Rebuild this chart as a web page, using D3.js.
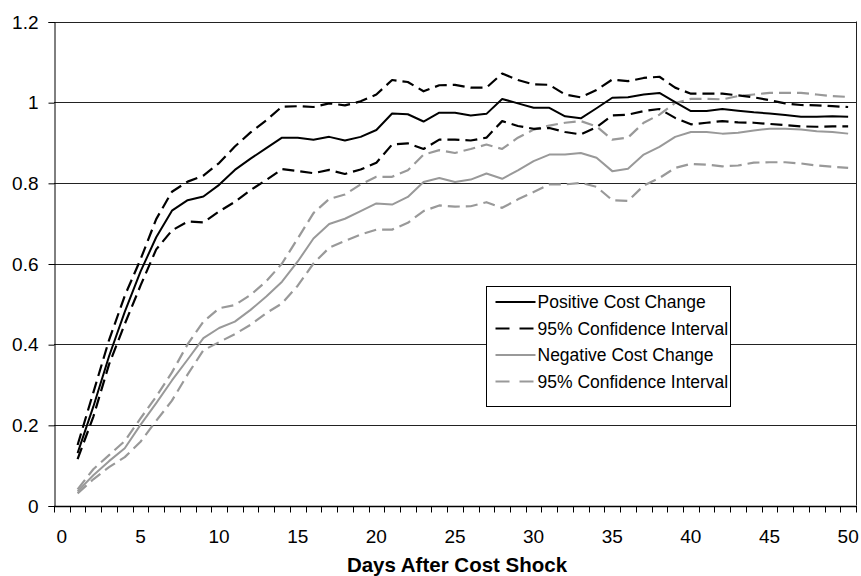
<!DOCTYPE html>
<html>
<head>
<meta charset="utf-8">
<script src="https://cdn.jsdelivr.net/npm/d3@7"></script>
<style>
  body { margin: 0; background: #fff; }
  text { font-family: "Liberation Sans", Arial, sans-serif; }
</style>
</head>
<body>
<div id="chart"></div>
<script>
// categories on the x axis (0 is an empty slot, data starts at day 1)
var categories = [0, 1, 2, 3, 4, 5, 6, 7, 8, 9, 10, 11, 12, 13, 14, 15, 16, 17, 18, 19, 20,
  21, 22, 23, 24, 25, 26, 27, 28, 29, 30, 31, 32, 33, 34, 35, 36, 37, 38, 39, 40,
  41, 42, 43, 44, 45, 46, 47, 48, 49, 50];
var days = [1, 2, 3, 4, 5, 6, 7, 8, 9, 10, 11, 12, 13, 14, 15, 16, 17, 18, 19, 20,
  21, 22, 23, 24, 25, 26, 27, 28, 29, 30, 31, 32, 33, 34, 35, 36, 37, 38, 39, 40,
  41, 42, 43, 44, 45, 46, 47, 48, 49, 50];
var xTickLabels = [0, 5, 10, 15, 20, 25, 30, 35, 40, 45, 50];
var yTicks = [0, 0.2, 0.4, 0.6, 0.8, 1, 1.2];
var yTickLabels = ["0", "0.2", "0.4", "0.6", "0.8", "1", "1.2"];

var posMean = [0.13, 0.245, 0.37, 0.48, 0.58, 0.665, 0.731, 0.757, 0.766, 0.795,
  0.832, 0.86, 0.886, 0.912, 0.912, 0.907, 0.914, 0.905, 0.914, 0.931,
  0.972, 0.970, 0.952, 0.974, 0.974, 0.967, 0.971, 1.008, 0.997, 0.986,
  0.986, 0.965, 0.960, 0.985, 1.011, 1.012, 1.019, 1.023, 1.0, 0.978,
  0.978, 0.983, 0.979, 0.975, 0.972, 0.968, 0.964, 0.964, 0.965, 0.964];
var posUpper = [0.15, 0.28, 0.41, 0.52, 0.61, 0.71, 0.778, 0.803, 0.818, 0.849,
  0.89, 0.925, 0.955, 0.989, 0.99, 0.988, 0.997, 0.992, 1.002, 1.019,
  1.055, 1.05, 1.027, 1.042, 1.043, 1.036, 1.036, 1.071, 1.055, 1.044,
  1.043, 1.019, 1.012, 1.03, 1.056, 1.052, 1.06, 1.063, 1.036, 1.021,
  1.021, 1.021, 1.017, 1.012, 1.005, 0.997, 0.993, 0.992, 0.99, 0.988];
var posLower = [0.115, 0.22, 0.35, 0.45, 0.545, 0.635, 0.682, 0.704, 0.702, 0.729,
  0.753, 0.782, 0.807, 0.834, 0.829, 0.824, 0.832, 0.822, 0.833, 0.85,
  0.895, 0.898, 0.884, 0.907, 0.907, 0.905, 0.912, 0.953, 0.941, 0.934,
  0.936, 0.926, 0.92, 0.938, 0.967, 0.969, 0.978, 0.983, 0.961, 0.945,
  0.949, 0.953, 0.95, 0.949, 0.946, 0.943, 0.94, 0.939, 0.94, 0.94];
var negMean = [0.035, 0.075, 0.11, 0.142, 0.2, 0.254, 0.31, 0.362, 0.415, 0.44,
  0.456, 0.485, 0.518, 0.555, 0.605, 0.662, 0.698, 0.711, 0.73, 0.749,
  0.746, 0.765, 0.802, 0.812, 0.802, 0.808, 0.823, 0.81, 0.831, 0.854,
  0.87, 0.87, 0.874, 0.862, 0.829, 0.835, 0.87, 0.889, 0.914, 0.926,
  0.926, 0.922, 0.924, 0.93, 0.934, 0.934, 0.932, 0.928, 0.926, 0.922];
var negUpper = [0.04, 0.09, 0.125, 0.16, 0.216, 0.27, 0.33, 0.40, 0.456, 0.489,
  0.497, 0.522, 0.556, 0.60, 0.662, 0.725, 0.76, 0.771, 0.796, 0.815,
  0.815, 0.831, 0.87, 0.881, 0.874, 0.884, 0.895, 0.884, 0.912, 0.932,
  0.942, 0.949, 0.953, 0.94, 0.907, 0.912, 0.949, 0.969, 0.998, 1.008,
  1.008, 1.007, 1.015, 1.019, 1.023, 1.023, 1.023, 1.019, 1.015, 1.013];
var negLower = [0.03, 0.065, 0.095, 0.12, 0.158, 0.21, 0.26, 0.325, 0.385, 0.405,
  0.425, 0.448, 0.477, 0.501, 0.545, 0.60, 0.639, 0.656, 0.672, 0.684,
  0.684, 0.701, 0.73, 0.744, 0.741, 0.742, 0.752, 0.738, 0.759, 0.777,
  0.796, 0.796, 0.8, 0.79, 0.757, 0.755, 0.793, 0.812, 0.837, 0.847,
  0.845, 0.841, 0.843, 0.85, 0.851, 0.851, 0.848, 0.843, 0.84, 0.837];

var legendLabels = ["Positive Cost Change", "95% Confidence Interval",
  "Negative Cost Change", "95% Confidence Interval"];

// line styles, in legend order
var styles = [
  { color: "#000", dash: null, width: 2 },
  { color: "#000", dash: "12,6", width: 2.2 },
  { color: "#999", dash: null, width: 2 },
  { color: "#999", dash: "12,6", width: 2.2 }
];
// draw order: grey first so black sits on top
var seriesList = [
  { values: negLower, style: 3 },
  { values: negUpper, style: 3 },
  { values: negMean, style: 2 },
  { values: posLower, style: 1 },
  { values: posUpper, style: 1 },
  { values: posMean, style: 0 }
];

var svgWidth = 861;
var svgHeight = 576;
var plot = { left: 54, right: 856, top: 21.5, bottom: 505.5 };

var svg = d3.select("#chart")
  .append("svg")
  .attr("width", svgWidth)
  .attr("height", svgHeight);

var x = d3.scaleBand()
  .domain(categories)
  .range([plot.left, plot.right])
  .padding(0);

var y = d3.scaleLinear()
  .domain([0, 1.2])
  .range([plot.bottom, plot.top]);

// gridlines
svg.append("g")
  .selectAll("line")
  .data(yTicks)
  .enter()
  .append("line")
  .attr("x1", plot.left)
  .attr("x2", plot.right)
  .attr("y1", d => Math.round(y(d)) + 0.5)
  .attr("y2", d => Math.round(y(d)) + 0.5)
  .attr("stroke", "#222")
  .attr("stroke-width", 1);

// right border
svg.append("line")
  .attr("x1", plot.right + 0.5).attr("x2", plot.right + 0.5)
  .attr("y1", y(1.2)).attr("y2", y(0))
  .attr("stroke", "#222");

// y axis
var leftAxis = d3.axisLeft(y)
  .tickValues(yTicks)
  .tickSize(6)
  .tickPadding(10)
  .tickFormat((d, i) => yTickLabels[i]);

var yAxisG = svg.append("g")
  .attr("transform", `translate(${plot.left + 0.5}, 0.5)`)
  .call(leftAxis);
yAxisG.selectAll("text")
  .style("font-size", "19px")
  .attr("fill", "#000");
yAxisG.selectAll("line, path").attr("stroke", "#000");

// x axis line
svg.append("line")
  .attr("x1", plot.left).attr("x2", plot.right + 1)
  .attr("y1", Math.round(y(0)) + 0.5).attr("y2", Math.round(y(0)) + 0.5)
  .attr("stroke", "#000")
  .attr("stroke-width", 1.5);

// x tick marks on category boundaries
var boundaries = categories.map(c => x(c)).concat([x(50) + x.bandwidth()]);
svg.append("g")
  .selectAll("line")
  .data(boundaries)
  .enter()
  .append("line")
  .attr("x1", d => Math.round(d) + 0.5)
  .attr("x2", d => Math.round(d) + 0.5)
  .attr("y1", Math.round(y(0)))
  .attr("y2", Math.round(y(0)) + 6.5)
  .attr("stroke", "#000");

// x tick labels
svg.append("g")
  .selectAll("text")
  .data(xTickLabels)
  .enter()
  .append("text")
  .attr("x", d => x(d) + x.bandwidth() / 2)
  .attr("y", 543)
  .attr("text-anchor", "middle")
  .style("font-size", "19px")
  .text(d => d);

// x axis title
svg.append("text")
  .attr("x", (plot.left + plot.right) / 2 + 2)
  .attr("y", 572)
  .attr("text-anchor", "middle")
  .style("font-size", "20.5px")
  .style("font-weight", "bold")
  .text("Days After Cost Shock");

// lines
var line = d3.line()
  .x((d, i) => x(days[i]) + x.bandwidth() / 2)
  .y(d => y(d));

svg.append("g")
  .selectAll("path")
  .data(seriesList)
  .enter()
  .append("path")
  .attr("d", d => line(d.values))
  .attr("fill", "none")
  .attr("stroke", d => styles[d.style].color)
  .attr("stroke-width", d => styles[d.style].width)
  .attr("stroke-dasharray", d => styles[d.style].dash)
  .attr("stroke-linejoin", "round");

// legend
var legend = svg.append("g")
  .attr("transform", "translate(486.5, 286.5)");

legend.append("rect")
  .attr("width", 244)
  .attr("height", 120)
  .attr("fill", "#fff")
  .attr("stroke", "#000");

var rows = legend.selectAll(".row")
  .data(legendLabels)
  .enter()
  .append("g")
  .attr("class", "row")
  .attr("transform", (d, i) => `translate(0, ${15.5 + i * 26.5})`);

rows.append("line")
  .attr("x1", 9)
  .attr("x2", 49)
  .attr("stroke", (d, i) => styles[i].color)
  .attr("stroke-width", (d, i) => styles[i].width)
  .attr("stroke-dasharray", (d, i) => styles[i].dash ? "14,10" : null);

rows.append("text")
  .attr("x", 51)
  .attr("dy", "0.35em")
  .style("font-size", "17.5px")
  .text(d => d);
</script>
</body>
</html>
